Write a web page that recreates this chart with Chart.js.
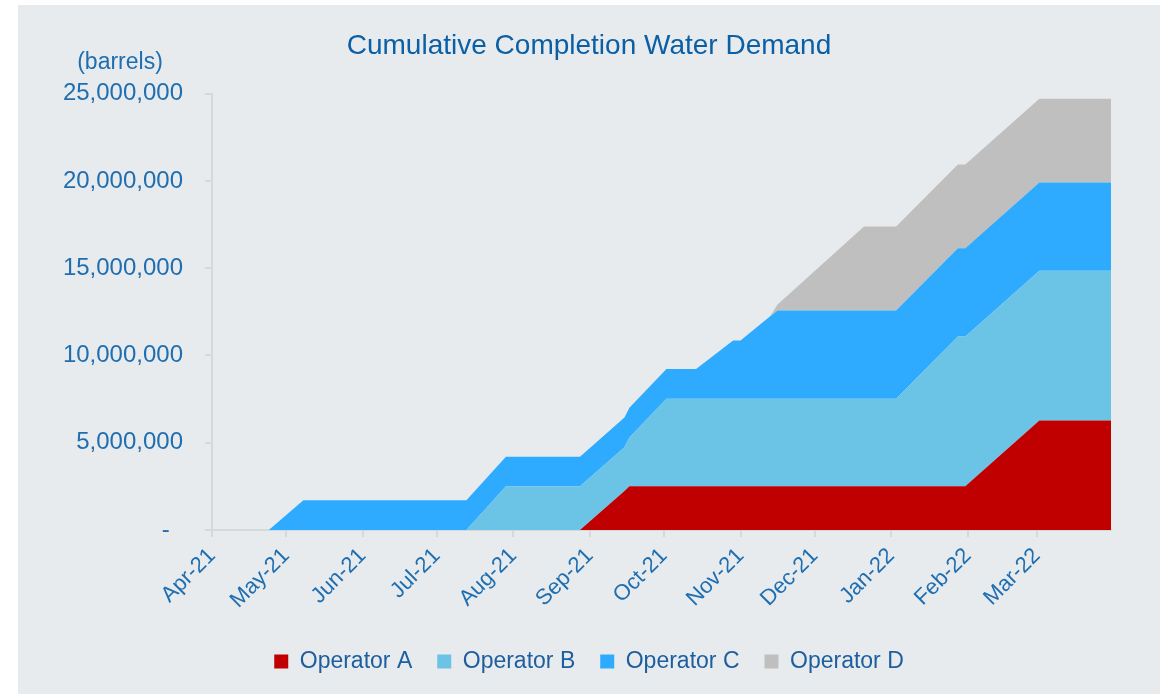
<!DOCTYPE html>
<html>
<head>
<meta charset="utf-8">
<script src="https://cdn.jsdelivr.net/npm/chart.js@4.4.1/dist/chart.umd.min.js"></script>
<style>
  html, body { margin: 0; padding: 0; background: #ffffff; }
  #panel { position: absolute; left: 18px; top: 5px; width: 1142px; height: 689px; background: #e7ebee; }
  #panel canvas { position: absolute; left: 0; top: 0; }
</style>
</head>
<body>
<div id="panel"><canvas id="myChart" width="1142" height="689"></canvas></div>
<script>
// days counted from 1 Apr 2021
var dayOffsets = [0, 23, 37, 103, 119, 149, 167, 169, 184, 196, 211, 214, 226, 229, 264, 277, 302, 305, 335, 364];

// cumulative barrels per operator
var operatorA = [0, 0, 0, 0, 0, 0, 2240000, 2500000, 2500000, 2500000, 2500000, 2500000, 2500000, 2500000, 2500000, 2500000, 2500000, 2500000, 6270000, 6270000];
var operatorB = [0, 0, 0, 0, 2500000, 2500000, 2500000, 2800000, 5020000, 5020000, 5020000, 5020000, 5020000, 5020000, 5020000, 5020000, 8580000, 8580000, 8580000, 8580000];
var operatorC = [0, 0, 1700000, 1700000, 1700000, 1700000, 1700000, 1700000, 1700000, 1700000, 3340000, 3340000, 4720000, 5060000, 5060000, 5060000, 5060000, 5060000, 5060000, 5060000];
var operatorD = [0, 0, 0, 0, 0, 0, 0, 0, 0, 0, 0, 0, 0, 340000, 4800000, 4800000, 4800000, 4800000, 4800000, 4800000];

var monthDays = [0, 30, 61, 91, 122, 153, 183, 214, 244, 275, 306, 334];
var monthLabels = ["Apr-21", "May-21", "Jun-21", "Jul-21", "Aug-21", "Sep-21", "Oct-21", "Nov-21", "Dec-21", "Jan-22", "Feb-22", "Mar-22"];

var seriesNames = ["Operator A", "Operator B", "Operator C", "Operator D"];
var seriesColors = ["#c00000", "#6bc3e6", "#2eabff", "#bfbfbf"];

var fontFamily = "'Liberation Sans', Arial, sans-serif";
var tickColor = "#1f6eb0";
var axisColor = "#d6d9dc";

function toPoints(values) {
  return values.map(function(v, i) { return {x: dayOffsets[i], y: v}; });
}

var allSeries = [operatorA, operatorB, operatorC, operatorD];
var datasets = allSeries.map(function(values, i) {
  return {
    label: seriesNames[i],
    data: toPoints(values),
    backgroundColor: seriesColors[i],
    borderColor: seriesColors[i],
    borderWidth: 0,
    pointRadius: 0,
    tension: 0,
    fill: i === 0 ? 'origin' : '-1'
  };
});

// the "(barrels)" unit above the y axis
var unitLabel = {
  id: 'unitLabel',
  afterDraw: function(chart) {
    var ctx = chart.ctx;
    ctx.save();
    ctx.font = "23px " + fontFamily;
    ctx.fillStyle = tickColor;
    ctx.textAlign = 'center';
    ctx.textBaseline = 'middle';
    ctx.fillText('(barrels)', chart.chartArea.left - 92, chart.chartArea.top - 31);
    ctx.restore();
  }
};

var ctx = document.getElementById("myChart").getContext("2d");
var myChart = new Chart(ctx, {
  type: 'line',
  data: { datasets: datasets },
  plugins: [unitLabel],
  options: {
    responsive: false,
    animation: false,
    events: [],
    layout: { padding: { left: 0, right: 0, top: 0, bottom: 11 } },
    plugins: {
      title: {
        display: true,
        text: 'Cumulative Completion Water Demand',
        color: '#0b5fa5',
        font: { family: fontFamily, size: 28, weight: 'normal' },
        padding: { top: 24, bottom: 31 }
      },
      legend: {
        position: 'bottom',
        labels: {
          boxWidth: 14,
          boxHeight: 14,
          color: '#1d5e9e',
          font: { family: fontFamily, size: 23 },
          padding: 25
        }
      },
      tooltip: { enabled: false }
    },
    scales: {
      x: {
        type: 'linear',
        min: 0,
        max: 364,
        afterBuildTicks: function(scale) {
          scale.ticks = monthDays.map(function(d) { return {value: d}; });
        },
        afterFit: function(scale) { scale.height = 95; },
        grid: { display: true, drawOnChartArea: false, drawTicks: true, tickLength: 7, color: axisColor, lineWidth: 2 },
        border: { display: true, color: axisColor, width: 2 },
        ticks: {
          autoSkip: false,
          maxRotation: 45,
          minRotation: 45,
          padding: 6,
          color: tickColor,
          font: { family: fontFamily, size: 22 },
          callback: function(value, index) { return monthLabels[index]; }
        }
      },
      y: {
        stacked: true,
        min: 0,
        max: 25000000,
        afterFit: function(scale) { scale.width = 194; },
        grid: { display: true, drawOnChartArea: false, drawTicks: true, tickLength: 7, color: axisColor, lineWidth: 2 },
        border: { display: true, color: axisColor, width: 2 },
        ticks: {
          stepSize: 5000000,
          padding: 22,
          color: tickColor,
          font: { family: fontFamily, size: 24 },
          callback: function(value) { return value === 0 ? '-  ' : value.toLocaleString('en-US'); }
        }
      },
      // empty axis that only keeps space on the right
      yRight: {
        position: 'right',
        display: true,
        afterFit: function(scale) { scale.width = 49; },
        grid: { display: false },
        border: { display: false },
        ticks: { display: false }
      }
    }
  }
});
</script>
</body>
</html>
